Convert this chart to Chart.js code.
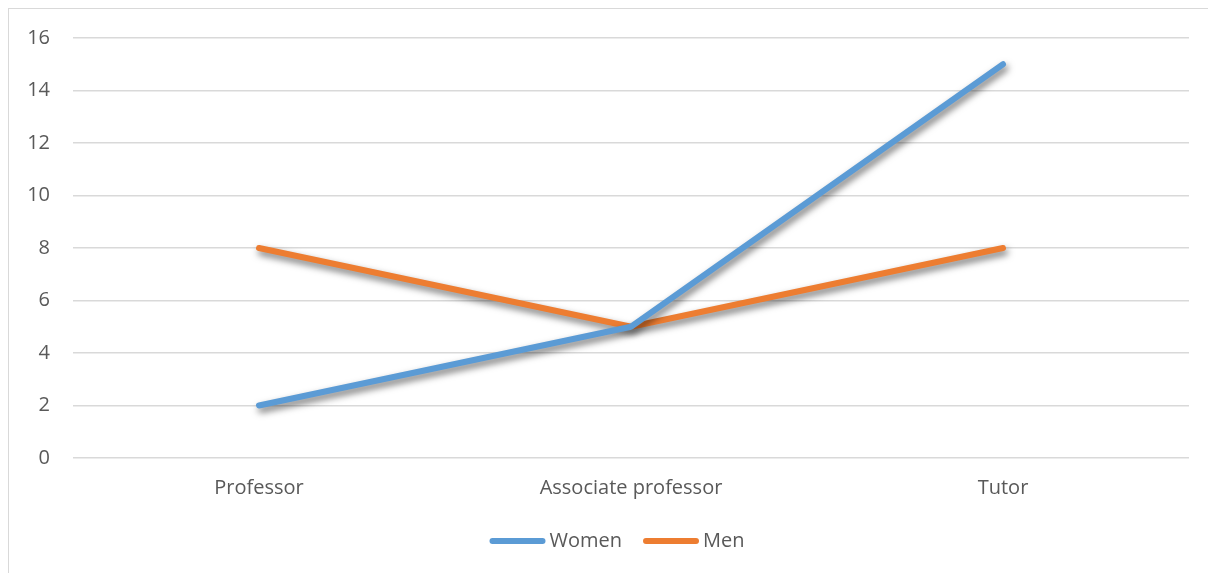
<!DOCTYPE html>
<html>
<head>
<meta charset="utf-8">
<script src="https://cdn.jsdelivr.net/npm/chart.js@4"></script>
<style>
  html, body { margin: 0; padding: 0; background: #fff; overflow: hidden; }
  #wrap { position: relative; width: 1208px; height: 573px; }
  #frame { position: absolute; left: 8px; top: 8px; width: 1220px; height: 600px; border: 1.5px solid #d9d9d9; box-sizing: border-box; }
  #box { position: absolute; left: 0; top: 0; width: 1208px; height: 573px; }
</style>
</head>
<body>
<div id="wrap">
  <div id="frame"></div>
  <div id="box"><canvas id="chart"></canvas></div>
</div>
<script>
// categories and series
const categories = ['Professor', 'Associate professor', 'Tutor'];
const women = [2, 5, 15];
const men = [8, 5, 8];
const yTicks = [0, 2, 4, 6, 8, 10, 12, 14, 16];

const FONT = "'Open Sans', 'Liberation Sans', sans-serif";
const FONT_SIZE = 20;
const TEXT = '#595959';
const GRID = '#d9d9d9';

// Excel-style soft shadow under the lines
const lineShadow = {
  id: 'lineShadow',
  beforeDatasetDraw(chart) {
    const ctx = chart.ctx;
    ctx.save();
    ctx.shadowColor = 'rgba(0,0,0,0.55)';
    ctx.shadowBlur = 7;
    ctx.shadowOffsetX = 2;
    ctx.shadowOffsetY = 4;
  },
  afterDatasetDraw(chart) {
    chart.ctx.restore();
  },
};

// legend drawn like the Excel one: line swatch right next to the name
const lineLegend = {
  id: 'lineLegend',
  afterDraw(chart) {
    const ctx = chart.ctx;
    const sw = 56, gapText = 4, gapItem = 21, cx = 617, cy = 541;
    ctx.save();
    ctx.font = `${FONT_SIZE}px ${FONT}`;
    const items = chart.data.datasets.map((ds) => ({ ds, w: ctx.measureText(ds.label).width }));
    const total = items.reduce((a, it) => a + sw + gapText + it.w, 0) + gapItem * (items.length - 1);
    let x = cx - total / 2;
    items.forEach((it) => {
      ctx.strokeStyle = it.ds.borderColor;
      ctx.lineWidth = 6;
      ctx.lineCap = 'round';
      ctx.beginPath();
      ctx.moveTo(x + 3, cy);
      ctx.lineTo(x + sw - 3, cy);
      ctx.stroke();
      ctx.fillStyle = TEXT;
      ctx.textBaseline = 'middle';
      ctx.textAlign = 'left';
      ctx.fillText(it.ds.label, x + sw + gapText, cy);
      x += sw + gapText + it.w + gapItem;
    });
    ctx.restore();
  },
};

new Chart(document.getElementById('chart'), {
  type: 'line',
  data: {
    labels: categories,
    datasets: [
      { label: 'Women', data: women, borderColor: '#5b9bd5', backgroundColor: '#5b9bd5', borderWidth: 6, pointRadius: 0, borderCapStyle: 'round', borderJoinStyle: 'round', tension: 0 },
      { label: 'Men', data: men, borderColor: '#ed7d31', backgroundColor: '#ed7d31', borderWidth: 6, pointRadius: 0, borderCapStyle: 'round', borderJoinStyle: 'round', tension: 0 },
    ],
  },
  options: {
    responsive: true, maintainAspectRatio: false, animation: false,
    layout: { padding: { left: 0, right: 19, top: 38, bottom: 55 } },
    plugins: {
      legend: { display: false },
      tooltip: { enabled: false },
    },
    scales: {
      x: {
        offset: true,
        grid: { display: false, drawTicks: false },
        border: { display: false },
        ticks: { color: TEXT, font: { family: FONT, size: FONT_SIZE }, padding: 18, maxRotation: 0 },
      },
      y: {
        min: 0, max: 16,
        afterFit: (s) => { s.width = 73; },
        afterBuildTicks: (s) => { s.ticks = yTicks.map((v) => ({ value: v })); },
        grid: { color: GRID, lineWidth: 1.5, drawTicks: false },
        border: { display: false },
        ticks: { color: TEXT, font: { family: FONT, size: FONT_SIZE }, padding: 23 },
      },
    },
  },
  plugins: [lineShadow, lineLegend],
});
</script>
</body>
</html>
